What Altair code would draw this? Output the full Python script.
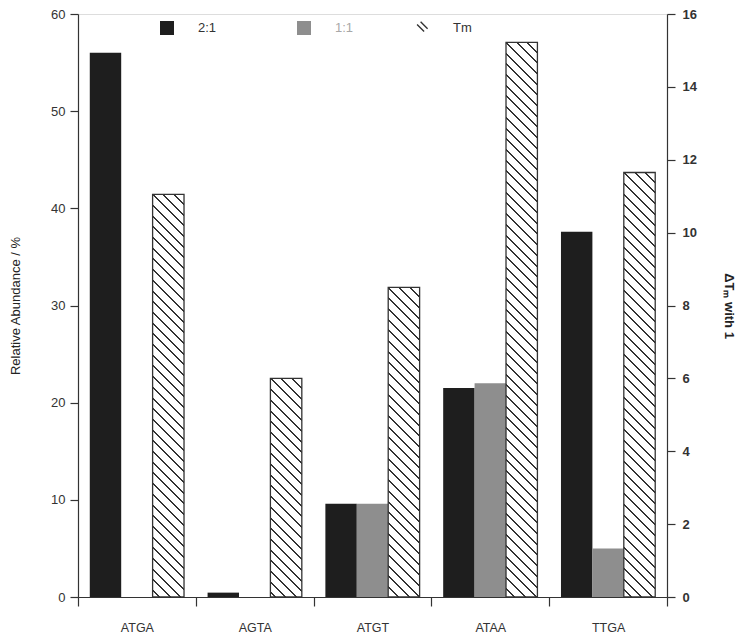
import math
import altair as alt

# ---- data ----
categories = ["ATGA", "AGTA", "ATGT", "ATAA", "TTGA"]
ratio_21 = [56.0, 0.45, 9.6, 21.5, 37.6]          # left axis, %
ratio_11 = [None, None, 9.6, 22.0, 5.0]            # left axis, % (absent where None)
tm_values = [11.05, 6.0, 8.5, 15.22, 11.65]         # right axis, delta Tm
series_names = ["2:1", "1:1", "Tm"]
left_ticks = [0, 10, 20, 30, 40, 50, 60]
right_ticks = [0, 2, 4, 6, 8, 10, 12, 14, 16]

# ---- style ----
W, H = 589, 583
DARK = "#1e1e1e"
GRAY = "#8e8e8e"
INK = "#333333"
FONT = "Liberation Sans"
OUTER = 0.375
LEFT_MAX = left_ticks[-1]
RIGHT_MAX = right_ticks[-1]

bar_w = (W / len(categories)) / (len(series_names) + 2 * OUTER)
HATCH_GAP = 10.7
HATCH_LW = 2.0


def hatch_gradient(value):
    """Linear gradient with hard stops that draws '\\' hatching at 45 degrees."""
    h = value / RIGHT_MAX * H
    w = bar_w
    span = w + h
    k = span / (w * w + h * h)
    stops = [{"offset": 0, "color": "white"}]
    j0 = math.floor(-h / HATCH_GAP) - 1
    j1 = math.ceil(w / HATCH_GAP) + 1
    for j in range(j0, j1 + 1):
        t = (j * HATCH_GAP + h) / span
        a = max(0.0, t - HATCH_LW / 2 / span)
        b = min(1.0, t + HATCH_LW / 2 / span)
        if b <= 0 or a >= 1:
            continue
        a, b = round(a, 5), round(b, 5)
        stops += [
            {"offset": a, "color": "white"},
            {"offset": a, "color": INK},
            {"offset": b, "color": INK},
            {"offset": b, "color": "white"},
        ]
    stops.append({"offset": 1, "color": "white"})
    return {"gradient": "linear", "x1": 0, "y1": 1,
            "x2": round(w * k, 6), "y2": round(1 - h * k, 6), "stops": stops}


left_rows = []
for c, a, b in zip(categories, ratio_21, ratio_11):
    left_rows.append({"cat": c, "series": "2:1", "value": a})
    if b is not None:
        left_rows.append({"cat": c, "series": "1:1", "value": b})

tm_rows = [{"cat": c, "series": "Tm", "tm": v, "hatch": hatch_gradient(v)}
           for c, v in zip(categories, tm_values)]

x_enc = alt.X(
    "cat:N", sort=categories,
    scale=alt.Scale(paddingInner=0, paddingOuter=0),
    axis=alt.Axis(title=None, labelAngle=0, tickBand="extent", tickSize=9,
                  labelPadding=15, labelFontSize=12.5, labelColor=INK,
                  domainColor=INK, tickColor=INK, domainWidth=1.2, tickWidth=1.2,
                  labelFont=FONT),
)
xoff = alt.XOffset(
    "series:N", sort=series_names,
    scale=alt.Scale(domain=series_names, paddingInner=0, paddingOuter=OUTER),
)

bars = alt.Chart(alt.Data(values=left_rows)).mark_bar().encode(
    x=x_enc,
    xOffset=xoff,
    y=alt.Y("value:Q",
            scale=alt.Scale(domain=[0, LEFT_MAX], nice=False, zero=True),
            axis=alt.Axis(orient="left", values=left_ticks, grid=False,
                          title="Relative Abundance / %", titleFontWeight="normal",
                          titleFontSize=13, titleColor="#222", titlePadding=28,
                          titleFont=FONT, labelFont=FONT,
                          labelFontSize=13, labelColor=INK, labelPadding=5,
                          tickSize=8, domainColor=INK, tickColor=INK,
                          domainWidth=1.2, tickWidth=1.2)),
    color=alt.Color("series:N",
                    scale=alt.Scale(domain=series_names, range=[DARK, GRAY, "white"]),
                    legend=None),
)

tm = alt.Chart(alt.Data(values=tm_rows)).mark_bar(stroke=INK, strokeWidth=1.3).encode(
    x=x_enc,
    xOffset=xoff,
    y=alt.Y("tm:Q",
            scale=alt.Scale(domain=[0, RIGHT_MAX], nice=False, zero=True),
            axis=alt.Axis(orient="right", values=right_ticks, grid=False,
                          title="ΔTₘ with 1", titleFontWeight="bold",
                          titleFontSize=13, titleColor="#222", titlePadding=25,
                          titleFont=FONT, labelFont=FONT,
                          labelFontSize=13, labelFontWeight="bold", labelColor=INK,
                          labelPadding=7, tickSize=8, domainColor=INK, tickColor=INK,
                          domainWidth=1.2, tickWidth=1.2)),
    fill=alt.Fill("hatch:N", scale=None),
)

hatch_symbol = ("M-0.77,-0.43 L-0.63,-0.57 L0.37,0.43 L0.23,0.57 Z "
                "M-0.27,-0.83 L-0.13,-0.97 L0.87,0.03 L0.73,0.17 Z")

legend_common = dict(
    title=None, orient="none", legendY=7, direction="horizontal",
    symbolSize=196, labelOffset=24, columnPadding=61, padding=0,
    labelFont=FONT, labelFontSize=13, symbolStrokeWidth=0, symbolOpacity=1,
)

legend_a = alt.Legend(legendX=82, labelColor=INK, symbolType="square", **legend_common)
legend_b = alt.Legend(
    legendX=219,
    symbolType=alt.ExprRef(expr="datum.label == 'Tm' ? '" + hatch_symbol + "' : 'square'"),
    labelColor=alt.ExprRef(expr="datum.label == '1:1' ? '#a8a8a8' : '#333333'"),
    **legend_common,
)

key_rows = [{"series": s} for s in series_names]

legend_layer_a = (
    alt.Chart(alt.Data(values=key_rows))
    .transform_filter("false")
    .mark_point(filled=True, opacity=1)
    .encode(color=alt.Color("series:N",
                            scale=alt.Scale(domain=series_names[:1], range=[DARK]),
                            legend=legend_a))
)
legend_layer_b = (
    alt.Chart(alt.Data(values=key_rows))
    .transform_filter("false")
    .mark_point(filled=True, opacity=1)
    .encode(color=alt.Color("series:N",
                            scale=alt.Scale(domain=series_names[1:], range=[GRAY, INK]),
                            legend=legend_b))
)

chart = (
    alt.layer(bars, tm, legend_layer_a, legend_layer_b)
    .resolve_scale(y="independent", color="independent")
    .properties(width=W, height=H, autosize="none",
                padding={"left": 70, "top": 6, "right": 75, "bottom": 44})
    .configure_view(stroke=None)
    .configure(font=FONT, background="white")
)

chart.save("out.html", embed_options={"renderer": "svg", "actions": False})
